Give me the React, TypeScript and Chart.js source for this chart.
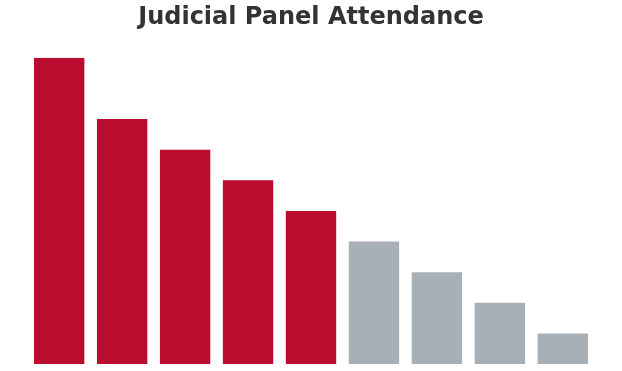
import React, { useEffect, useRef } from "react";
import { Chart, registerables } from "chart.js";

Chart.register(...registerables);

const categories = ["A", "B", "C", "D", "E", "F", "G", "H", "I"];
const values = [10, 8, 7, 6, 5, 4, 3, 2, 1];
const barColors = [
  "#BA0C2F", "#BA0C2F", "#BA0C2F", "#BA0C2F", "#BA0C2F",
  "#A7B0B7", "#A7B0B7", "#A7B0B7", "#A7B0B7",
];
const titleText = "Judicial Panel Attendance";

export default function App() {
  const ref = useRef<HTMLCanvasElement | null>(null);
  useEffect(() => {
    if (!ref.current) return;
    const chart = new Chart(ref.current, {
      type: "bar",
      data: {
        labels: categories,
        datasets: [
          {
            data: values,
            backgroundColor: barColors,
            borderWidth: 0,
            barPercentage: 1,
            categoryPercentage: 0.8,
          },
        ],
      },
      options: {
        animation: false,
        responsive: true,
        maintainAspectRatio: false,
        layout: { padding: { left: 27.7, right: 27.7, top: 0, bottom: 7 } },
        plugins: {
          legend: { display: false },
          tooltip: { enabled: false },
          title: {
            display: true,
            text: titleText,
            color: "#333333",
            font: { family: "DejaVu Sans", size: 24, weight: "bold" },
            padding: { top: 3.5, bottom: 25.5 },
          },
        },
        scales: {
          x: { display: false },
          y: { display: false, min: 0, max: 10 },
        },
      },
    });
    return () => chart.destroy();
  }, []);
  return (
    <div style={{ position: "absolute", left: 0, top: 0, width: 622, height: 371 }}>
      <canvas ref={ref} />
    </div>
  );
}
